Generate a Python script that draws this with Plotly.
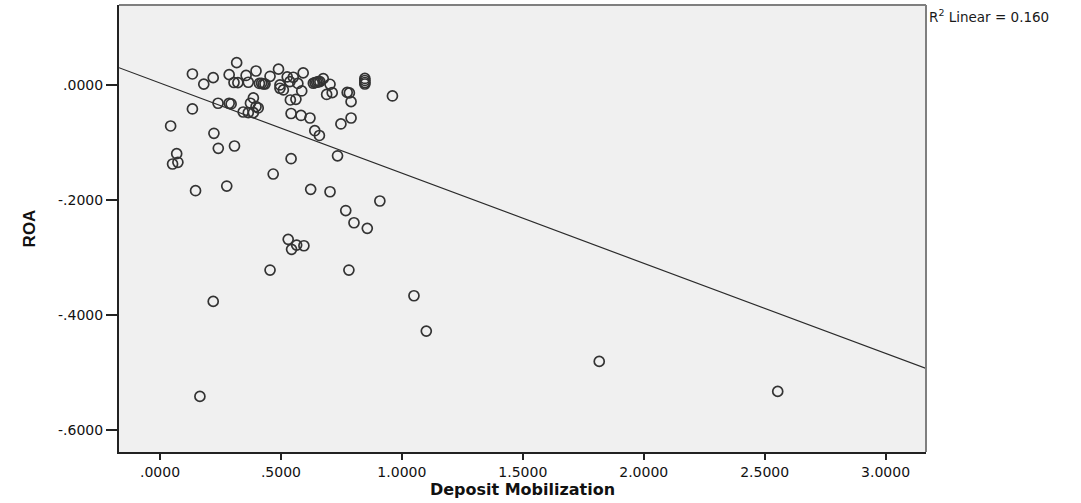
import plotly.graph_objects as go

# Deposit Mobilization (x) and ROA (y)
deposit_mobilization = [
    0.317, 0.134, 0.181, 0.220, 0.286, 0.306, 0.322, 0.356, 0.365, 0.397,
    0.411, 0.420, 0.427, 0.434, 0.455, 0.490, 0.496, 0.510, 0.496, 0.526,
    0.537, 0.551, 0.570, 0.592, 0.586, 0.634, 0.641, 0.648, 0.654, 0.661,
    0.675, 0.703, 0.689, 0.712, 0.774, 0.783, 0.847, 0.847, 0.847, 0.847,
    0.790, 0.961, 0.790, 0.748, 0.134, 0.044, 0.240, 0.286, 0.294, 0.386,
    0.374, 0.397, 0.406, 0.344, 0.365, 0.386, 0.539, 0.562, 0.542, 0.583,
    0.620, 0.640, 0.659, 0.223, 0.241, 0.308, 0.069, 0.052, 0.074, 0.542,
    0.734, 0.468, 0.147, 0.276, 0.623, 0.703, 0.909, 0.768, 0.802, 0.857,
    0.530, 0.565, 0.595, 0.544, 0.455, 0.781, 0.220, 0.165, 1.050, 1.101,
    1.816, 2.554,
]
roa = [
    0.0388, 0.0191, 0.0014, 0.0127, 0.0179, 0.0043, 0.0040, 0.0165, 0.0047, 0.0243,
    0.0026, 0.0030, 0.0017, 0.0017, 0.0151, 0.0275, 0.0000, -0.0087, -0.0057, 0.0139,
    0.0057, 0.0134, 0.0026, 0.0209, -0.0104, 0.0030, 0.0043, 0.0047, 0.0057, 0.0057,
    0.0110, 0.0012, -0.0165, -0.0134, -0.0130, -0.0139, 0.0113, 0.0078, 0.0043, 0.0017,
    -0.0290, -0.0191, -0.0574, -0.0678, -0.0417, -0.0713, -0.0318, -0.0318, -0.0330, -0.0226,
    -0.0318, -0.0377, -0.0400, -0.0470, -0.0482, -0.0482, -0.0261, -0.0249, -0.0496, -0.0530,
    -0.0574, -0.0795, -0.0878, -0.0840, -0.1101, -0.1061, -0.1195, -0.1374, -0.1344, -0.1282,
    -0.1231, -0.1548, -0.1838, -0.1757, -0.1814, -0.1856, -0.2017, -0.2183, -0.2395, -0.2492,
    -0.2683, -0.2783, -0.2795, -0.2857, -0.3217, -0.3217, -0.3762, -0.5414, -0.3664, -0.4278,
    -0.4805, -0.5327,
]

# Linear fit line
fit_intercept = [0.0034]
fit_slope = [-0.1567]
r2_linear = [0.160]

x_tick_vals = [0.0, 0.5, 1.0, 1.5, 2.0, 2.5, 3.0]
x_tick_text = [".0000", ".5000", "1.0000", "1.5000", "2.0000", "2.5000", "3.0000"]
y_tick_vals = [0.0, -0.2, -0.4, -0.6]
y_tick_text = [".0000", "-.2000", "-.4000", "-.6000"]

x_range = [-0.1695, 3.167]
y_range = [-0.638, 0.139]

fig = go.Figure()

line_x = x_range
line_y = [fit_intercept[0] + fit_slope[0] * v for v in line_x]
fig.add_trace(go.Scatter(
    x=line_x, y=line_y, mode="lines",
    line=dict(color="#2b2b2b", width=1.2),
    hoverinfo="skip", showlegend=False,
))

fig.add_trace(go.Scatter(
    x=deposit_mobilization, y=roa, mode="markers",
    marker=dict(symbol="circle-open", size=10, color="#333333",
                line=dict(width=1.7, color="#333333")),
    showlegend=False,
))

tick_font = dict(family="DejaVu Sans", size=14, color="#111111")

fig.update_xaxes(
    range=x_range, tickvals=x_tick_vals, ticktext=x_tick_text,
    ticks="outside", ticklen=6, tickwidth=2, tickcolor="#222222",
    showgrid=False, zeroline=False,
    showline=True, linecolor="#222222", linewidth=2,
    tickfont=tick_font,
    title=dict(text="Deposit Mobilization",
               font=dict(family="DejaVu Sans", size=16, color="#111111", weight="bold"),
               standoff=4),
)
fig.update_yaxes(
    range=y_range, tickvals=y_tick_vals, ticktext=y_tick_text,
    ticks="outside", ticklen=11, tickwidth=2, tickcolor="#222222",
    showgrid=False, zeroline=False,
    showline=True, linecolor="#222222", linewidth=2,
    tickfont=tick_font,
    title=dict(text="ROA",
               font=dict(family="Liberation Sans", size=17, color="#111111", weight="bold"),
               standoff=18),
)

# gray top and right frame lines
fig.add_shape(type="line", xref="paper", yref="paper", x0=0, x1=1, y0=1, y1=1,
              line=dict(color="#7f7f7f", width=2))
fig.add_shape(type="line", xref="paper", yref="paper", x0=1, x1=1, y0=0, y1=1,
              line=dict(color="#7f7f7f", width=2))

fig.add_annotation(
    xref="paper", yref="paper", x=1.0, y=1.0, xanchor="left", yanchor="top",
    xshift=1, yshift=0, showarrow=False,
    text="R<sup>2</sup> Linear = %.3f" % r2_linear[0],
    font=dict(family="DejaVu Sans", size=13.5, color="#1a1a1a"),
)

fig.update_layout(
    width=1081, height=503,
    margin=dict(l=119, r=155, t=5, b=51),
    plot_bgcolor="#f0f0f0", paper_bgcolor="white",
)

fig.write_html("out.html")
